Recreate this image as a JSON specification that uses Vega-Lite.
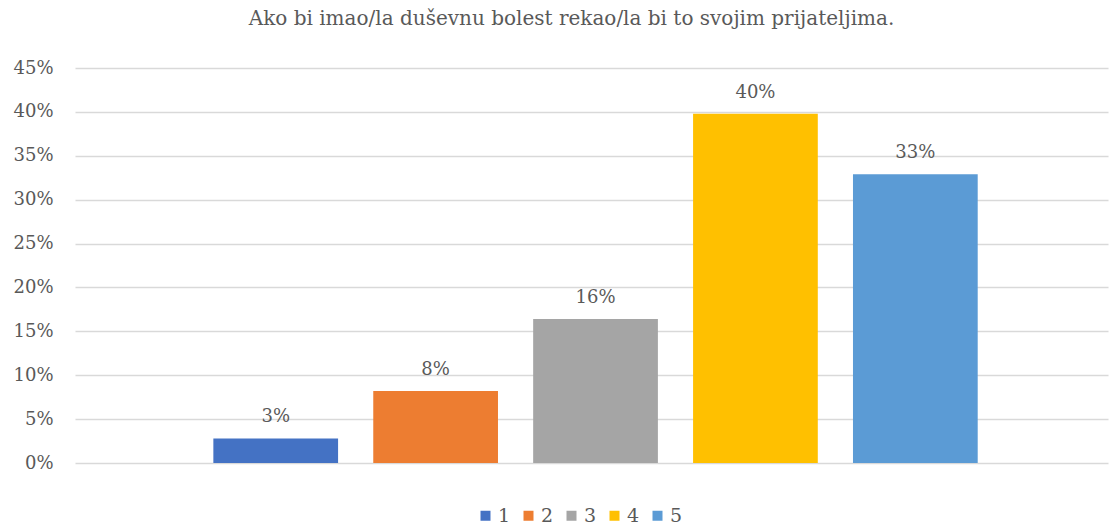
{
  "$schema": "https://vega.github.io/schema/vega-lite/v6.json",
  "width": 1033,
  "height": 395,
  "autosize": "none",
  "padding": {"left": 75, "top": 68, "right": 2, "bottom": 65},
  "background": "white",
  "title": {
    "text": "Ako bi imao/la duševnu bolest rekao/la bi to svojim prijateljima.",
    "font": "DejaVu Serif",
    "fontSize": 20,
    "fontWeight": "normal",
    "color": "#595959",
    "anchor": "middle",
    "offset": 30,
    "dx": -20
  },
  "data": {
    "values": [
      {"series": "1", "value": 0.028},
      {"series": "2", "value": 0.082},
      {"series": "3", "value": 0.164},
      {"series": "4", "value": 0.398},
      {"series": "5", "value": 0.329}
    ]
  },
  "config": {
    "view": {"stroke": null},
    "font": "DejaVu Serif"
  },
  "encoding": {
    "x": {
      "field": "series",
      "type": "nominal",
      "scale": {"paddingInner": 0.22, "paddingOuter": 0.84, "align": 0.515},
      "axis": null
    },
    "y": {
      "field": "value",
      "type": "quantitative",
      "scale": {"domain": [0, 0.45], "nice": false},
      "axis": {
        "title": null,
        "values": [0, 0.05, 0.1, 0.15, 0.2, 0.25, 0.3, 0.35, 0.4, 0.45],
        "format": ".0%",
        "labelFont": "DejaVu Serif",
        "labelFontSize": 18,
        "labelColor": "#595959",
        "labelPadding": 22,
        "ticks": false,
        "domain": false,
        "grid": true,
        "gridColor": "#d9d9d9",
        "gridWidth": 1.3
      }
    }
  },
  "layer": [
    {
      "mark": {"type": "bar"},
      "encoding": {
        "color": {
          "field": "series",
          "type": "nominal",
          "scale": {
            "domain": ["1", "2", "3", "4", "5"],
            "range": ["#4472C4", "#ED7D31", "#A5A5A5", "#FFC000", "#5B9BD5"]
          },
          "legend": {
            "title": null,
            "orient": "none",
            "legendX": 401,
            "legendY": 438,
            "direction": "horizontal",
            "symbolType": "square",
            "symbolSize": 100,
            "symbolStrokeWidth": 0,
            "labelFont": "DejaVu Serif",
            "labelFontSize": 19,
            "labelColor": "#595959",
            "labelOffset": 3,
            "columnPadding": 8
          }
        }
      }
    },
    {
      "mark": {
        "type": "text",
        "baseline": "bottom",
        "dy": -12,
        "font": "DejaVu Serif",
        "fontSize": 18,
        "color": "#595959"
      },
      "encoding": {
        "text": {"field": "value", "type": "quantitative", "format": ".0%"}
      }
    }
  ]
}
